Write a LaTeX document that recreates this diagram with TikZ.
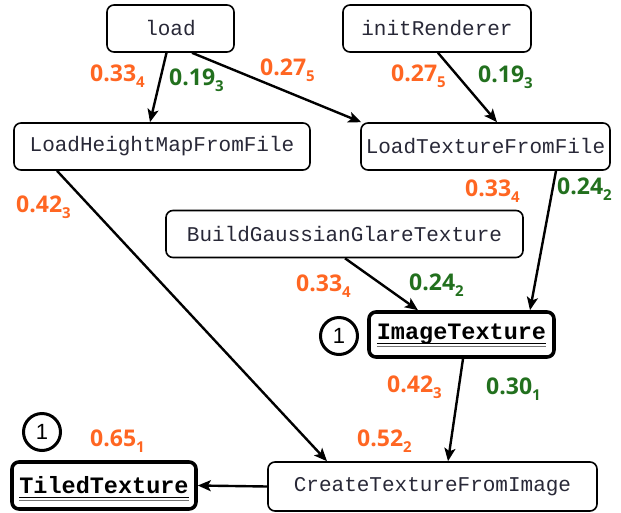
\documentclass[tikz,border=0pt]{standalone}
\usepackage{fontspec}
\setmonofont{Liberation Mono}
\newfontfamily\labfont{Open Sans}
\newfontfamily\numfont{Liberation Sans}
\usetikzlibrary{arrows.meta,calc}
\definecolor{lorange}{RGB}{255,102,34}
\definecolor{lgreen}{RGB}{34,112,30}
\definecolor{ntext}{RGB}{40,40,55}
\newcommand\subx[1]{\raisebox{-6pt}{\fontsize{15}{15}\selectfont #1}}
\newcommand\dul[1]{\setbox0=\hbox{#1}\rlap{\usebox0}\smash{\rlap{\raisebox{-4pt}{\rule{\wd0}{1pt}}}\raisebox{-6.5pt}{\textcolor{black!55}{\rule{\wd0}{0.7pt}}}}}
\tikzset{
  fn/.style={draw, line width=1.6pt, rounded corners=7pt, inner sep=0pt, minimum height=47pt,
    text=ntext, font=\ttfamily\fontsize{21}{21}\selectfont},
  key/.style={draw, line width=3.6pt, rounded corners=7pt, inner sep=0pt, minimum height=47pt,
    text=black, font=\ttfamily\bfseries\fontsize{23.5}{23.5}\selectfont},
  arr/.style={line width=2.4pt, -{Stealth[length=13pt,width=11pt,inset=3pt]}},
  lab/.style={font=\labfont\bfseries\fontsize{23}{23}\selectfont, inner sep=0pt, anchor=base west},
  lo/.style={lab, text=lorange},
  lg/.style={lab, text=lgreen},
  cnum/.style={circle, draw, line width=3pt, minimum size=37pt, inner sep=0pt,
    font=\numfont\fontsize{22}{22}\selectfont}
}
\begin{document}
\begin{tikzpicture}[x=1pt,y=-1pt]
\useasboundingbox (0,0) rectangle (621,512);
% nodes
\node[fn, minimum width=127pt] (load) at (170.5,28.5) {load};
\node[fn, minimum width=188pt] (init) at (437,28.5) {initRenderer};
\node[fn, minimum width=296pt] (lhm) at (162,146.5) {LoadHeightMapFromFile};
\node[fn, minimum width=249pt] (ltf) at (485.5,146.5) {LoadTextureFromFile};
\node[fn, minimum width=357pt] (bgg) at (344.5,234) {BuildGaussianGlareTexture};
\node[key, minimum width=185pt, minimum height=45pt] (img) at (461.5,334.5) {\dul{ImageTexture}};
\node[key, minimum width=184pt, minimum height=47pt] (tiled) at (104,485.5) {\dul{TiledTexture}};
\node[fn, minimum width=329pt, minimum height=49pt] (ctf) at (432.5,486.5) {CreateTextureFromImage};
\node[cnum] (c1) at (339,336) {1};
\node[cnum] (c2) at (42,432) {1};
% connectors
\draw[arr] ([xshift=-4pt]load.south) -- ([xshift=-12pt]lhm.north);
\draw[arr] ([xshift=21.5pt]load.south) -- ([xshift=1pt]ltf.north west);
\draw[arr] ([xshift=1pt]init.south) -- ([xshift=11.5pt]ltf.north);
\draw[arr] ([xshift=70.5pt]ltf.south) -- ([xshift=68.5pt]img.north);
\draw[arr] ([xshift=0.5pt]bgg.south) -- ([xshift=-43.5pt]img.north);
\draw[arr] ([xshift=-105pt]lhm.south) -- ([xshift=-105.5pt]ctf.north);
\draw[arr] ([xshift=1.5pt]img.south) -- ([xshift=15.5pt]ctf.north);
\draw[arr] (ctf.west) -- (tiled.east);
% labels
\node[lo] (a1) at (90,81) {0.33\subx{4}};
\node[lg] (a2) at (169,85) {0.19\subx{3}};
\node[lo] (a3) at (260,75) {0.27\subx{5}};
\node[lo] (a4) at (391,81) {0.27\subx{5}};
\node[lg] (a5) at (478,82) {0.19\subx{3}};
\node[lo] (a6) at (16,212) {0.42\subx{3}};
\node[lo] (a7) at (465,196) {0.33\subx{4}};
\node[lg] (a8) at (557,194) {0.24\subx{2}};
\node[lo] (a9) at (296,291) {0.33\subx{4}};
\node[lg] (a10) at (409,290) {0.24\subx{2}};
\node[lo] (a11) at (387,392) {0.42\subx{3}};
\node[lg] (a12) at (486,394) {0.30\subx{1}};
\node[lo] (a13) at (90,446) {0.65\subx{1}};
\node[lo] (a14) at (357,446) {0.52\subx{2}};
\end{tikzpicture}
\end{document}
